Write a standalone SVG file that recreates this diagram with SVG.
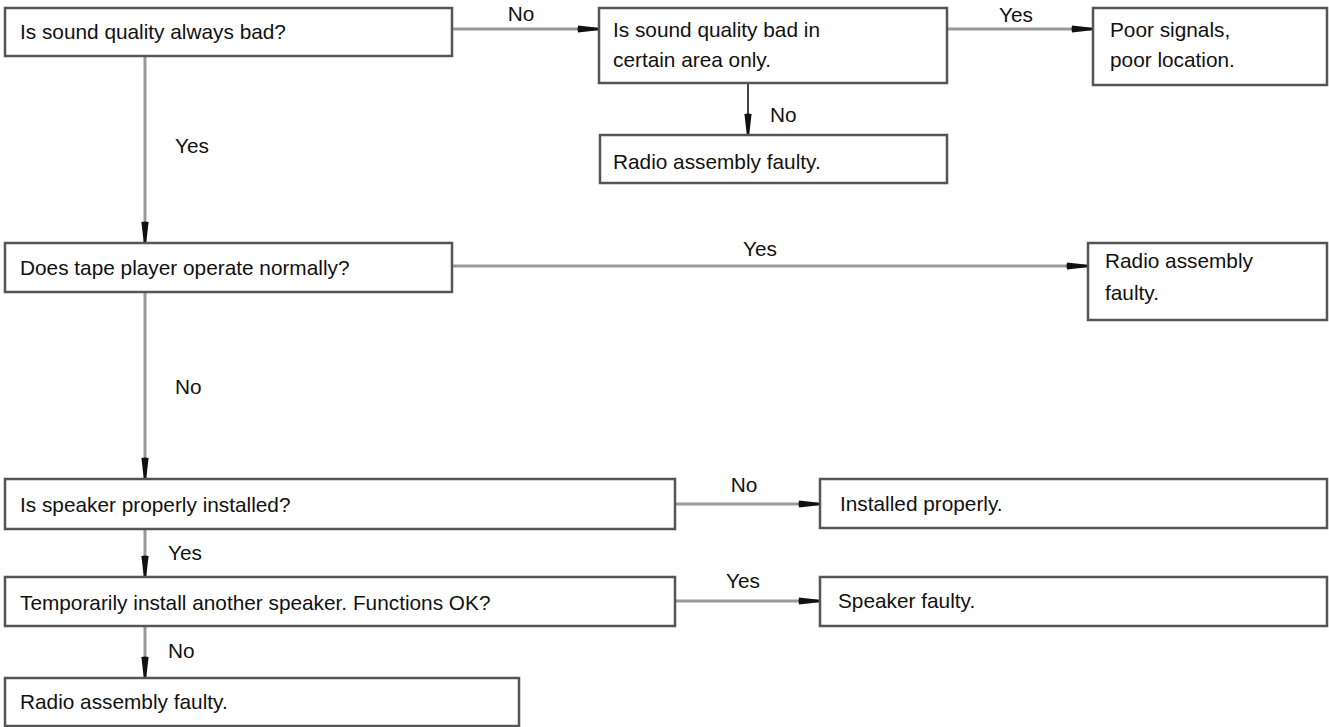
<svg xmlns="http://www.w3.org/2000/svg" width="1329" height="727" viewBox="0 0 1329 727">
<style>
  .box { fill: #ffffff; stroke: #555555; stroke-width: 2.5; }
  .t { font-family: "Liberation Sans", Arial, sans-serif; font-size: 20.8px; fill: #111111; }
  .lbl { font-family: "Liberation Sans", Arial, sans-serif; font-size: 20.8px; fill: #111111; }
  .c { fill: none; stroke: #999999; stroke-width: 3; marker-end: url(#arr); }
  .cd { fill: none; stroke: #444444; stroke-width: 2; marker-end: url(#arr); }
</style>
<defs>
  <marker id="arr" markerUnits="userSpaceOnUse" markerWidth="24" markerHeight="10" refX="22" refY="5" orient="auto">
    <path d="M1,1.4 L21,3.7 L21,6.3 L1,8.6 Q0,5 1,1.4 Z" fill="#111111"/>
  </marker>
</defs>
<rect width="1329" height="727" fill="#ffffff"/>
<g id="connectors">
  <line class="c" x1="452" y1="29" x2="599" y2="29"/>
  <line class="c" x1="947" y1="29" x2="1093" y2="29"/>
  <line class="cd" x1="748" y1="83" x2="748" y2="135"/>
  <line class="c" x1="145" y1="56" x2="145" y2="243"/>
  <line class="c" x1="452" y1="266" x2="1088" y2="266"/>
  <line class="c" x1="145" y1="292" x2="145" y2="479"/>
  <line class="c" x1="675" y1="504" x2="820" y2="504"/>
  <line class="c" x1="145" y1="529" x2="145" y2="577"/>
  <line class="c" x1="675" y1="601" x2="820" y2="601"/>
  <line class="c" x1="145" y1="626" x2="145" y2="678"/>
  <text class="lbl" x="521" y="21" text-anchor="middle">No</text>
  <text class="lbl" x="1016" y="22" text-anchor="middle">Yes</text>
  <text class="lbl" x="770" y="122">No</text>
  <text class="lbl" x="175" y="153">Yes</text>
  <text class="lbl" x="760" y="256" text-anchor="middle">Yes</text>
  <text class="lbl" x="175" y="394">No</text>
  <text class="lbl" x="744" y="492" text-anchor="middle">No</text>
  <text class="lbl" x="743" y="588" text-anchor="middle">Yes</text>
  <text class="lbl" x="168" y="560">Yes</text>
  <text class="lbl" x="168" y="658">No</text>
</g>
<g id="n1">
  <rect class="box" x="5" y="8" width="447" height="48"/>
  <text class="t" x="20" y="39">Is sound quality always bad?</text>
</g>
<g id="n2">
  <rect class="box" x="599" y="8" width="348" height="75"/>
  <text class="t" x="613" y="37">Is sound quality bad in</text>
  <text class="t" x="613" y="67">certain area only.</text>
</g>
<g id="n3">
  <rect class="box" x="600" y="135" width="347" height="48"/>
  <text class="t" x="613" y="169">Radio assembly faulty.</text>
</g>
<g id="n4">
  <rect class="box" x="1093" y="8" width="234" height="77"/>
  <text class="t" x="1110" y="37">Poor signals,</text>
  <text class="t" x="1110" y="67">poor location.</text>
</g>
<g id="n5">
  <rect class="box" x="5" y="243" width="447" height="49"/>
  <text class="t" x="20" y="275">Does tape player operate normally?</text>
</g>
<g id="n6">
  <rect class="box" x="1088" y="243" width="239" height="77"/>
  <text class="t" x="1105" y="268">Radio assembly</text>
  <text class="t" x="1105" y="300">faulty.</text>
</g>
<g id="n7">
  <rect class="box" x="5" y="479" width="670" height="50"/>
  <text class="t" x="20" y="512">Is speaker properly installed?</text>
</g>
<g id="n8">
  <rect class="box" x="820" y="479" width="507" height="49"/>
  <text class="t" x="840" y="511">Installed properly.</text>
</g>
<g id="n9">
  <rect class="box" x="5" y="577" width="670" height="49"/>
  <text class="t" x="20" y="610">Temporarily install another speaker. Functions OK?</text>
</g>
<g id="n10">
  <rect class="box" x="820" y="577" width="507" height="49"/>
  <text class="t" x="838" y="608">Speaker faulty.</text>
</g>
<g id="n11">
  <rect class="box" x="5" y="678" width="514" height="48"/>
  <text class="t" x="20" y="709">Radio assembly faulty.</text>
</g>
</svg>
